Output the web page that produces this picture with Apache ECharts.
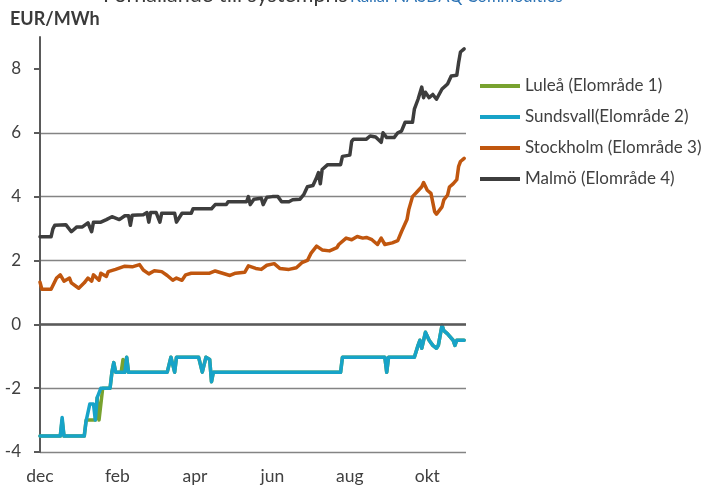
<!DOCTYPE html>
<html>
<head>
<meta charset="utf-8">
<script src="https://cdn.jsdelivr.net/npm/echarts@6/dist/echarts.min.js"></script>
<style>
  html, body { margin: 0; padding: 0; background: #fff; }
  #chart { width: 704px; height: 485px; }
</style>
</head>
<body>
<div id="chart"></div>
<script>
// Price-area differences to the Nord Pool system price (EUR/MWh), by trading day.
// x = trading-day index from the start of December, y = EUR/MWh.
const monthLabels = ['dec', 'feb', 'apr', 'jun', 'aug', 'okt'];
const daysPerLabel = 42;
const lastDay = 231;
const yTicks = [-4, -2, 0, 2, 4, 6, 8];

const seriesNames = ['Luleå (Elområde 1)', 'Sundsvall(Elområde 2)', 'Stockholm (Elområde 3)', 'Malmö (Elområde 4)'];
const seriesColors = ['#78A22F', '#17A3C8', '#C0560E', '#3D3D3D'];

const lulea = [
  [0, -3.5], [11, -3.5], [12, -3.0], [13, -3.5], [24, -3.5], [25, -3.0], [30, -3.0],
  [31, -2.3], [32, -3.0], [33, -3.0], [34, -2.0], [38, -2.0], [39, -1.5], [40, -1.2],
  [41, -1.5], [44, -1.5], [45, -1.1], [46, -1.5], [47, -1.03], [48, -1.5], [69, -1.5],
  [71, -1.03], [73, -1.5], [74, -1.03], [86, -1.03], [88, -1.5], [90, -1.03], [92, -1.1],
  [93, -1.8], [94, -1.5], [163, -1.5], [164, -1.03], [187, -1.03], [188, -1.5], [189, -1.03],
  [203, -1.03], [205, -0.66], [206, -0.5], [207, -0.75], [209, -0.25], [211, -0.5],
  [213, -0.66], [215, -0.75], [216, -0.66], [218, -0.03], [219, -0.2], [221, -0.3],
  [222, -0.25], [224, -0.5], [225, -0.66], [226, -0.5], [230, -0.5]
];

const sundsvall = [
  [0, -3.5], [11, -3.5], [12, -2.92], [13, -3.5], [24, -3.5], [25, -3.03], [26, -3.03],
  [27, -2.5], [29, -2.5], [30, -3.0], [31, -2.3], [33, -2.0], [38, -2.0], [39, -1.5],
  [40, -1.2], [41, -1.5], [46, -1.5], [47, -1.03], [48, -1.5], [69, -1.5], [71, -1.03],
  [73, -1.5], [74, -1.03], [86, -1.03], [88, -1.5], [90, -1.03], [92, -1.1], [93, -1.8],
  [94, -1.5], [163, -1.5], [164, -1.03], [187, -1.03], [188, -1.5], [189, -1.03],
  [203, -1.03], [205, -0.66], [206, -0.5], [207, -0.75], [209, -0.25], [211, -0.5],
  [213, -0.66], [215, -0.75], [216, -0.66], [218, -0.03], [219, -0.2], [221, -0.3],
  [222, -0.25], [224, -0.5], [225, -0.66], [226, -0.5], [230, -0.5]
];

const stockholm = [
  [0, 1.32], [1, 1.1], [6, 1.1], [9, 1.45], [11, 1.55], [13, 1.35], [16, 1.45], [17, 1.3],
  [21, 1.13], [24, 1.3], [26, 1.45], [28, 1.35], [29, 1.55], [32, 1.38], [33, 1.6],
  [36, 1.5], [37, 1.65], [41, 1.72], [46, 1.82], [50, 1.8], [54, 1.87], [56, 1.7],
  [59, 1.58], [62, 1.68], [66, 1.65], [69, 1.53], [72, 1.38], [74, 1.45], [77, 1.38],
  [79, 1.55], [82, 1.6], [92, 1.6], [95, 1.67], [99, 1.6], [103, 1.53], [106, 1.6],
  [111, 1.63], [113, 1.83], [117, 1.75], [120, 1.72], [123, 1.85], [127, 1.9], [130, 1.75],
  [135, 1.72], [139, 1.77], [142, 1.93], [145, 2.0], [147, 2.23], [150, 2.45], [153, 2.33],
  [157, 2.3], [161, 2.4], [162, 2.5], [166, 2.7], [169, 2.65], [172, 2.75], [175, 2.7],
  [177, 2.72], [180, 2.65], [183, 2.5], [185, 2.7], [187, 2.5], [191, 2.55], [194, 2.62],
  [196, 2.9], [199, 3.28], [200, 3.6], [202, 4.0], [204, 4.12], [207, 4.31], [208, 4.44],
  [210, 4.2], [212, 4.1], [214, 3.53], [215, 3.45], [218, 3.68], [219, 3.9], [221, 4.05],
  [222, 4.3], [224, 4.4], [226, 4.53], [227, 4.95], [228, 5.1], [230, 5.2]
];

const malmo = [
  [0, 2.74], [6, 2.74], [7, 2.99], [8, 3.1], [14, 3.12], [17, 2.9], [20, 3.05], [23, 3.05],
  [26, 3.18], [28, 2.9], [29, 3.2], [33, 3.2], [36, 3.28], [39, 3.37], [43, 3.28], [46, 3.4],
  [48, 3.4], [49, 3.1], [50, 3.42], [56, 3.43], [58, 3.5], [59, 3.2], [60, 3.5], [63, 3.5],
  [65, 3.2], [66, 3.48], [73, 3.48], [74, 3.2], [77, 3.48], [82, 3.48], [83, 3.62],
  [93, 3.62], [95, 3.75], [101, 3.75], [102, 3.84], [112, 3.84], [113, 4.0], [114, 3.75],
  [116, 3.92], [120, 3.95], [121, 3.75], [123, 3.98], [126, 4.0], [129, 4.0], [131, 3.84],
  [135, 3.84], [137, 3.9], [141, 3.92], [143, 4.06], [145, 4.31], [148, 4.35], [150, 4.6],
  [151, 4.75], [152, 4.4], [153, 4.85], [156, 5.0], [163, 5.0], [164, 5.26], [168, 5.3],
  [169, 5.73], [170, 5.8], [177, 5.8], [179, 5.9], [182, 5.87], [185, 5.7], [186, 6.0],
  [188, 5.85], [192, 5.85], [194, 6.0], [196, 6.05], [198, 6.33], [202, 6.33], [203, 6.74],
  [205, 7.05], [207, 7.43], [208, 7.1], [209, 7.27], [211, 7.1], [213, 7.2], [215, 7.05],
  [216, 7.05], [218, 7.37], [221, 7.53], [223, 7.78], [226, 7.8], [227, 8.2], [228, 8.53],
  [230, 8.63]
];

const seriesData = [lulea, sundsvall, stockholm, malmo];

const FONT = 'Lato, "Liberation Sans", sans-serif';
const TEXT = '#404040';

const chart = echarts.init(document.getElementById('chart'), null, { renderer: 'canvas' });

const series = seriesNames.map((name, i) => ({
  name,
  type: 'line',
  data: seriesData[i],
  showSymbol: false,
  symbol: 'none',
  smooth: false,
  z: 3 + i,
  lineStyle: { color: seriesColors[i], width: 3.5, join: 'round', cap: 'round' },
  itemStyle: { color: seriesColors[i] },
  emphasis: { disabled: true },
  animation: false
}));

// Heavier zero line, as the horizontal axis crosses there
series[0].markLine = {
  silent: true,
  symbol: 'none',
  label: { show: false },
  lineStyle: { color: '#5A5A5A', width: 2.5, type: 'solid' },
  data: [{ yAxis: 0 }],
  animation: false
};

chart.setOption({
  backgroundColor: '#ffffff',
  animation: false,
  textStyle: { fontFamily: FONT },
  title: {
    text: 'EUR/MWh',
    left: 5,
    top: 5,
    textStyle: { fontFamily: FONT, fontSize: 18, fontWeight: 'bold', color: '#3A3A3A' }
  },
  graphic: [
    {
      type: 'text',
      left: 103,
      top: -16,
      style: { text: 'Förhållande till systempris', font: '21.5px ' + FONT, fill: '#3A3A3A' }
    },
    {
      type: 'text',
      left: 350,
      top: -12,
      style: { text: 'Källa: NASDAQ Commodities', font: '16.5px ' + FONT, fill: '#2E74B5' }
    }
  ],
  legend: {
    orient: 'vertical',
    left: 475,
    top: 71,
    itemWidth: 40,
    itemHeight: 4,
    itemGap: 11,
    icon: 'rect',
    selectedMode: false,
    textStyle: { fontFamily: FONT, fontSize: 17, color: TEXT, lineHeight: 20 },
    data: seriesNames
  },
  grid: { left: 40, right: 238, top: 37, bottom: 33, containLabel: false },
  xAxis: {
    type: 'value',
    min: 0,
    max: lastDay,
    interval: daysPerLabel,
    axisLine: { show: false },
    axisTick: { show: false },
    splitLine: { show: false },
    axisLabel: {
      color: TEXT,
      fontFamily: FONT,
      fontSize: 17.5,
      margin: 15,
      formatter: (v) => {
        const k = v / daysPerLabel;
        return Number.isInteger(k) && monthLabels[k] ? monthLabels[k] : '';
      }
    }
  },
  yAxis: {
    type: 'value',
    min: -4,
    max: 9,
    interval: 2,
    axisLine: { show: true, onZero: false, lineStyle: { color: '#5A5A5A', width: 2 } },
    axisTick: { show: true, length: 6, customValues: yTicks, lineStyle: { color: '#5A5A5A', width: 2 } },
    axisLabel: { customValues: yTicks, color: TEXT, fontFamily: FONT, fontSize: 17, margin: 19 },
    splitLine: { show: true, showMaxLine: false, lineStyle: { color: '#848484', width: 1.3 } }
  },
  series
});
</script>
</body>
</html>
